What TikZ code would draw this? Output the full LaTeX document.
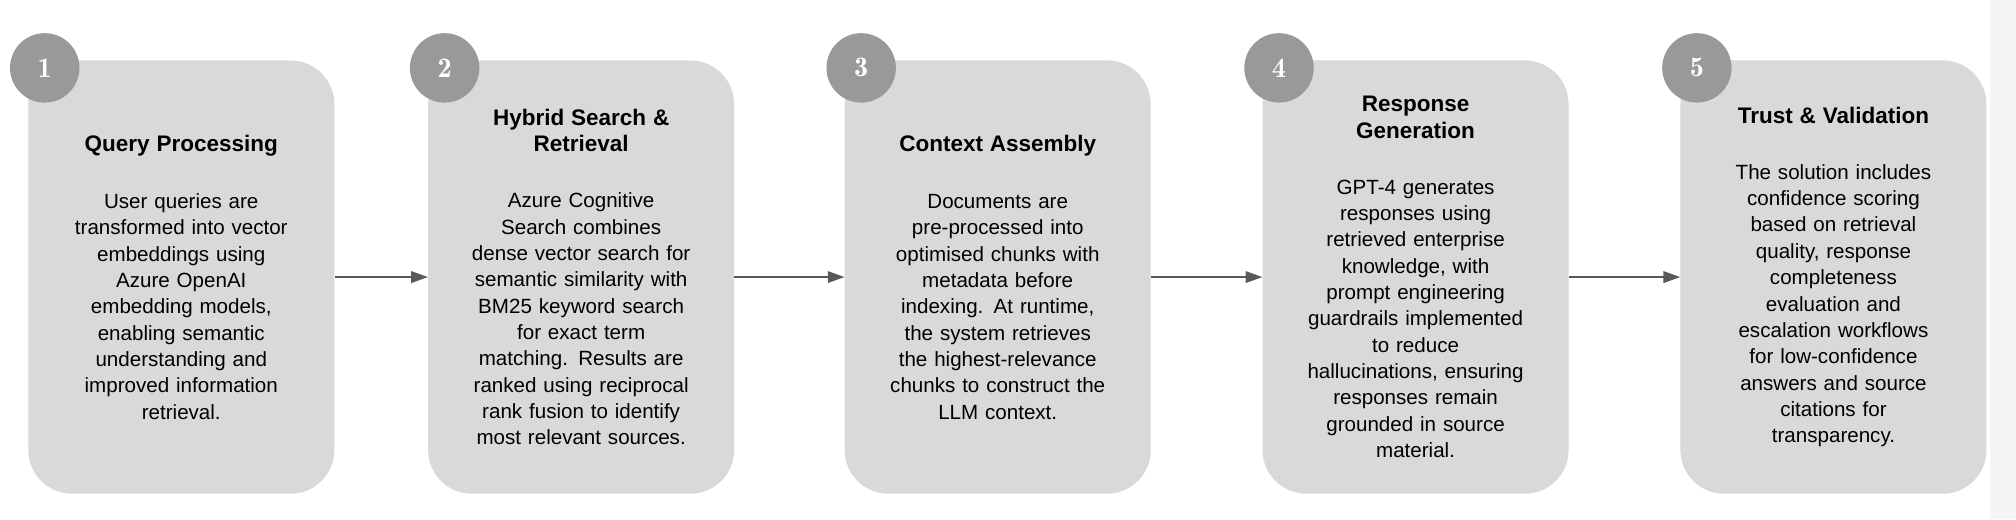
\documentclass[tikz,border=0pt]{standalone}
\usepackage{fontspec}
\setmainfont{Liberation Sans}
\usetikzlibrary{arrows.meta}
\definecolor{boxg}{HTML}{D9D9D9}
\definecolor{circg}{HTML}{999999}
\definecolor{arrg}{HTML}{595959}
\tikzset{
 stage/.style={fill=boxg,rounded corners=34pt,minimum width=238pt,minimum height=337pt,inner sep=0pt},
 content/.style={align=center,text width=215pt,font=\fontsize{16}{20.5}\selectfont},
 numc/.style={circle,fill=circg,minimum size=54pt,inner sep=0pt,text=white,font=\fontfamily{lmr}\bfseries\fontsize{22}{22}\selectfont},
 conn/.style={-{Triangle[length=13pt,width=9pt]},draw=arrg,line width=1.3pt}
}
\newcommand{\ttl}[1]{{\bfseries\fontsize{17.5}{22}\selectfont #1}}
\begin{document}
\begin{tikzpicture}[x=1pt,y=1pt]
\fill[white] (0,0) rectangle (1568,404);
\fill[gray!8] (1548,0) rectangle (1568,404);
\foreach \i/\x in {1/141,2/452,3/776,4/1101,5/1426}{
 \node[stage] (b\i) at (\x,188.5) {};
}
\foreach \i in {1,...,5}{
 \node[numc] (n\i) at ([xshift=13pt,yshift=-6pt]b\i.north west) {\i};
}
\node[content] (t1) at (b1) {\ttl{Query Processing}\\[24pt]User queries are\\transformed into vector\\embeddings using\\Azure OpenAI\\embedding models,\\enabling semantic\\understanding and\\improved information\\retrieval.};
\node[content] (t2) at (b2) {\ttl{Hybrid Search \&\\Retrieval}\\[23pt]Azure Cognitive\\Search combines\\dense vector search for\\semantic similarity with\\BM25 keyword search\\for exact term\\matching. Results are\\ranked using reciprocal\\rank fusion to identify\\most relevant sources.};
\node[content] (t3) at (b3) {\ttl{Context Assembly}\\[24pt]Documents are\\pre-processed into\\optimised chunks with\\metadata before\\indexing. At runtime,\\the system retrieves\\the highest-relevance\\chunks to construct the\\LLM context.};
\node[content] (t4) at (b4) {\ttl{Response\\Generation}\\[23pt]GPT-4 generates\\responses using\\retrieved enterprise\\knowledge, with\\prompt engineering\\guardrails implemented\\to reduce\\hallucinations, ensuring\\responses remain\\grounded in source\\material.};
\node[content] (t5) at (b5) {\ttl{Trust \& Validation}\\[23pt]The solution includes\\confidence scoring\\based on retrieval\\quality, response\\completeness\\evaluation and\\escalation workflows\\for low-confidence\\answers and source\\citations for\\transparency.};
\foreach \a/\b in {1/2,2/3,3/4,4/5}{
 \draw[conn] (b\a.east) -- (b\b.west);
}
\end{tikzpicture}
\end{document}
